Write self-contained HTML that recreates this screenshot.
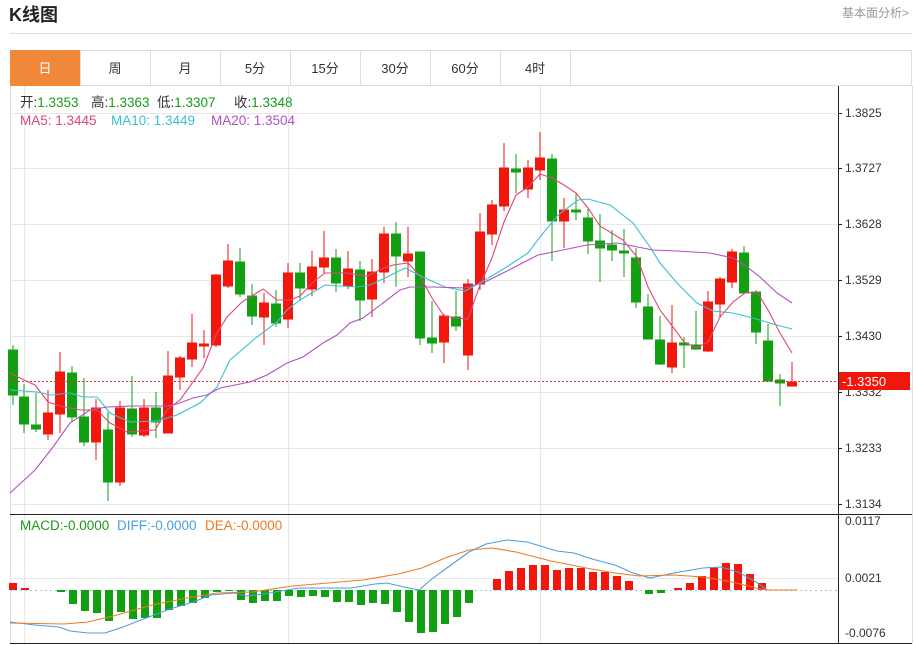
<!DOCTYPE html>
<html><head><meta charset="utf-8"><style>
body{margin:0;background:#fff;width:914px;height:645px;overflow:hidden;font-family:"Liberation Sans","Noto Sans CJK SC",sans-serif;}
svg text{font-family:"Liberation Sans","Noto Sans CJK SC",sans-serif;}
</style></head><body>
<svg width="914" height="645" xmlns="http://www.w3.org/2000/svg" style="position:absolute;left:0;top:0">
<text x="9" y="21" font-size="18" font-weight="bold" fill="#222">K线图</text>
<text x="842" y="17" font-size="12" fill="#999">基本面分析&gt;</text>
<line x1="10" y1="33.5" x2="912" y2="33.5" stroke="#ddd"/>
<rect x="10.5" y="50.5" width="901" height="35" fill="#fff" stroke="#ddd"/>
<rect x="10" y="50" width="70" height="36" fill="#f0883a"/>
<g stroke="#ddd"><line x1="150.5" y1="50" x2="150.5" y2="86"/><line x1="220.5" y1="50" x2="220.5" y2="86"/><line x1="290.5" y1="50" x2="290.5" y2="86"/><line x1="360.5" y1="50" x2="360.5" y2="86"/><line x1="430.5" y1="50" x2="430.5" y2="86"/><line x1="500.5" y1="50" x2="500.5" y2="86"/><line x1="570.5" y1="50" x2="570.5" y2="86"/><line x1="80.5" y1="50" x2="80.5" y2="86"/></g>
<g font-size="13" text-anchor="middle" fill="#333"><text x="45" y="73" fill="#fff">日</text><text x="115" y="73">周</text><text x="185" y="73">月</text><text x="255" y="73">5分</text><text x="325" y="73">15分</text><text x="395" y="73">30分</text><text x="465" y="73">60分</text><text x="535" y="73">4时</text></g>
<line x1="10.5" y1="86" x2="10.5" y2="643" stroke="#ddd"/>
<line x1="912.5" y1="86" x2="912.5" y2="643" stroke="#ddd"/>
<g stroke="#e8e8e8"><line x1="10" y1="113.5" x2="838" y2="113.5"/><line x1="10" y1="168.5" x2="838" y2="168.5"/><line x1="10" y1="224.5" x2="838" y2="224.5"/><line x1="10" y1="280.5" x2="838" y2="280.5"/><line x1="10" y1="336.5" x2="838" y2="336.5"/><line x1="10" y1="392.5" x2="838" y2="392.5"/><line x1="10" y1="448.5" x2="838" y2="448.5"/><line x1="10" y1="504.5" x2="838" y2="504.5"/><line x1="10" y1="578.5" x2="838" y2="578.5"/>
<line x1="24.5" y1="86" x2="24.5" y2="643"/><line x1="288.5" y1="86" x2="288.5" y2="643"/><line x1="540.5" y1="86" x2="540.5" y2="643"/></g>
<line x1="838.5" y1="86" x2="838.5" y2="643" stroke="#222"/>
<line x1="10" y1="514.5" x2="912" y2="514.5" stroke="#222"/>
<line x1="10" y1="643.5" x2="912" y2="643.5" stroke="#222"/>
<g font-size="12" fill="#333"><text x="845" y="117">1.3825</text><text x="845" y="172">1.3727</text><text x="845" y="228">1.3628</text><text x="845" y="284">1.3529</text><text x="845" y="340">1.3430</text><text x="845" y="396">1.3332</text><text x="845" y="452">1.3233</text><text x="845" y="508">1.3134</text><text x="845" y="525">0.0117</text><text x="845" y="582">0.0021</text><text x="845" y="637">-0.0076</text></g>
<g stroke="#222"><line x1="838" y1="113.5" x2="842" y2="113.5"/><line x1="838" y1="168.5" x2="842" y2="168.5"/><line x1="838" y1="224.5" x2="842" y2="224.5"/><line x1="838" y1="280.5" x2="842" y2="280.5"/><line x1="838" y1="336.5" x2="842" y2="336.5"/><line x1="838" y1="392.5" x2="842" y2="392.5"/><line x1="838" y1="448.5" x2="842" y2="448.5"/><line x1="838" y1="504.5" x2="842" y2="504.5"/></g>
<g font-size="13.5" fill="#333">
<text x="20" y="107">开:<tspan fill="#1a9a1a">1.3353</tspan></text>
<text x="91" y="107">高:<tspan fill="#1a9a1a">1.3363</tspan></text>
<text x="157" y="107">低:<tspan fill="#1a9a1a">1.3307</tspan></text>
<text x="234" y="107">收:<tspan fill="#1a9a1a">1.3348</tspan></text>
<text x="20" y="125" fill="#e0457b">MA5: 1.3445</text>
<text x="111" y="125" fill="#3cbfd0">MA10: 1.3449</text>
<text x="211" y="125" fill="#b050c0">MA20: 1.3504</text>
<text x="20" y="530" fill="#1a9a1a">MACD:-0.0000</text>
<text x="117" y="530" fill="#4aa0e0">DIFF:-0.0000</text>
<text x="205" y="530" fill="#f07a20">DEA:-0.0000</text>
</g>
<g stroke-width="1">
<g stroke="#12a012" fill="#12a012">
<line x1="13" y1="345" x2="13" y2="405"/><rect x="8.5" y="350" width="9" height="45"/>
<line x1="24" y1="384" x2="24" y2="433"/><rect x="19.5" y="397" width="9" height="27"/>
<line x1="36" y1="393" x2="36" y2="432"/><rect x="31.5" y="425" width="9" height="4"/>
<line x1="72" y1="366" x2="72" y2="422"/><rect x="67.5" y="373" width="9" height="44"/>
<line x1="84" y1="378" x2="84" y2="446"/><rect x="79.5" y="417" width="9" height="25"/>
<line x1="108" y1="412" x2="108" y2="501"/><rect x="103.5" y="430" width="9" height="52"/>
<line x1="132" y1="376" x2="132" y2="437"/><rect x="127.5" y="409" width="9" height="25"/>
<line x1="156" y1="392" x2="156" y2="438"/><rect x="151.5" y="408" width="9" height="14"/>
<line x1="240" y1="248" x2="240" y2="297"/><rect x="235.5" y="262" width="9" height="32"/>
<line x1="252" y1="284" x2="252" y2="325"/><rect x="247.5" y="296" width="9" height="20"/>
<line x1="276" y1="290" x2="276" y2="327"/><rect x="271.5" y="304" width="9" height="19"/>
<line x1="300" y1="263" x2="300" y2="301"/><rect x="295.5" y="273" width="9" height="15"/>
<line x1="336" y1="249" x2="336" y2="292"/><rect x="331.5" y="258" width="9" height="25"/>
<line x1="360" y1="261" x2="360" y2="321"/><rect x="355.5" y="270" width="9" height="30"/>
<line x1="396" y1="222" x2="396" y2="287"/><rect x="391.5" y="234" width="9" height="22"/>
<line x1="420" y1="252" x2="420" y2="345"/><rect x="415.5" y="252" width="9" height="86"/>
<line x1="432" y1="301" x2="432" y2="353"/><rect x="427.5" y="338" width="9" height="5"/>
<line x1="456" y1="291" x2="456" y2="331"/><rect x="451.5" y="317" width="9" height="9"/>
<line x1="516" y1="154" x2="516" y2="193"/><rect x="511.5" y="169" width="9" height="3"/>
<line x1="552" y1="154" x2="552" y2="261"/><rect x="547.5" y="159" width="9" height="62"/>
<line x1="576" y1="194" x2="576" y2="220"/><rect x="571.5" y="210" width="9" height="2"/>
<line x1="588" y1="209" x2="588" y2="254"/><rect x="583.5" y="218" width="9" height="23"/>
<line x1="600" y1="214" x2="600" y2="282"/><rect x="595.5" y="241" width="9" height="7"/>
<line x1="612" y1="230" x2="612" y2="261"/><rect x="607.5" y="245" width="9" height="5"/>
<line x1="624" y1="229" x2="624" y2="277"/><rect x="619.5" y="251" width="9" height="2"/>
<line x1="636" y1="248" x2="636" y2="308"/><rect x="631.5" y="258" width="9" height="44"/>
<line x1="648" y1="294" x2="648" y2="339"/><rect x="643.5" y="307" width="9" height="32"/>
<line x1="660" y1="316" x2="660" y2="365"/><rect x="655.5" y="340" width="9" height="24"/>
<line x1="684" y1="337" x2="684" y2="368"/><rect x="679.5" y="343" width="9" height="2"/>
<line x1="696" y1="311" x2="696" y2="350"/><rect x="691.5" y="345" width="9" height="4"/>
<line x1="744" y1="246" x2="744" y2="293"/><rect x="739.5" y="253" width="9" height="40"/>
<line x1="756" y1="290" x2="756" y2="344"/><rect x="751.5" y="292" width="9" height="40"/>
<line x1="768" y1="324" x2="768" y2="381"/><rect x="763.5" y="341" width="9" height="40"/>
<line x1="780" y1="374" x2="780" y2="406"/><rect x="775.5" y="380" width="9" height="3"/>
</g>
<g stroke="#f2170c" fill="#f2170c">
<line x1="48" y1="390" x2="48" y2="440"/><rect x="43.5" y="413" width="9" height="21"/>
<line x1="60" y1="352" x2="60" y2="433"/><rect x="55.5" y="372" width="9" height="42"/>
<line x1="96" y1="399" x2="96" y2="460"/><rect x="91.5" y="408" width="9" height="34"/>
<line x1="120" y1="401" x2="120" y2="486"/><rect x="115.5" y="408" width="9" height="74"/>
<line x1="144" y1="399" x2="144" y2="437"/><rect x="139.5" y="408" width="9" height="27"/>
<line x1="168" y1="351" x2="168" y2="433"/><rect x="163.5" y="376" width="9" height="57"/>
<line x1="180" y1="356" x2="180" y2="390"/><rect x="175.5" y="358" width="9" height="19"/>
<line x1="192" y1="314" x2="192" y2="367"/><rect x="187.5" y="343" width="9" height="16"/>
<line x1="204" y1="330" x2="204" y2="358"/><rect x="199.5" y="344" width="9" height="2"/>
<line x1="216" y1="274" x2="216" y2="347"/><rect x="211.5" y="275" width="9" height="70"/>
<line x1="228" y1="244" x2="228" y2="288"/><rect x="223.5" y="261" width="9" height="25"/>
<line x1="264" y1="293" x2="264" y2="345"/><rect x="259.5" y="303" width="9" height="14"/>
<line x1="288" y1="263" x2="288" y2="328"/><rect x="283.5" y="273" width="9" height="46"/>
<line x1="312" y1="251" x2="312" y2="296"/><rect x="307.5" y="267" width="9" height="22"/>
<line x1="324" y1="231" x2="324" y2="273"/><rect x="319.5" y="258" width="9" height="9"/>
<line x1="348" y1="251" x2="348" y2="289"/><rect x="343.5" y="269" width="9" height="17"/>
<line x1="372" y1="259" x2="372" y2="317"/><rect x="367.5" y="272" width="9" height="27"/>
<line x1="384" y1="227" x2="384" y2="283"/><rect x="379.5" y="234" width="9" height="38"/>
<line x1="408" y1="227" x2="408" y2="277"/><rect x="403.5" y="254" width="9" height="7"/>
<line x1="444" y1="314" x2="444" y2="363"/><rect x="439.5" y="316" width="9" height="26"/>
<line x1="468" y1="279" x2="468" y2="370"/><rect x="463.5" y="284" width="9" height="71"/>
<line x1="480" y1="213" x2="480" y2="290"/><rect x="475.5" y="232" width="9" height="52"/>
<line x1="492" y1="200" x2="492" y2="245"/><rect x="487.5" y="205" width="9" height="29"/>
<line x1="504" y1="143" x2="504" y2="211"/><rect x="499.5" y="168" width="9" height="38"/>
<line x1="528" y1="160" x2="528" y2="198"/><rect x="523.5" y="168" width="9" height="21"/>
<line x1="540" y1="132" x2="540" y2="180"/><rect x="535.5" y="158" width="9" height="12"/>
<line x1="564" y1="198" x2="564" y2="248"/><rect x="559.5" y="210" width="9" height="11"/>
<line x1="672" y1="305" x2="672" y2="373"/><rect x="667.5" y="343" width="9" height="24"/>
<line x1="708" y1="291" x2="708" y2="352"/><rect x="703.5" y="302" width="9" height="49"/>
<line x1="720" y1="277" x2="720" y2="318"/><rect x="715.5" y="279" width="9" height="25"/>
<line x1="732" y1="249" x2="732" y2="288"/><rect x="727.5" y="252" width="9" height="30"/>
<line x1="792" y1="362" x2="792" y2="386"/><rect x="787.5" y="382" width="9" height="4"/>
</g></g>
<g fill="none" stroke-width="1.1">
<polyline stroke="#e0457b" points="10,373 24,380 35,385 48,402 60,406 80,410 97,410 110,423 127,432 155,430 167,410 180,400 203,368 216,335 227,317 242,302 263,289 277,300 290,300 300,296 312,283 325,273 347,273 367,276 384,268 393,265 408,263 420,276 432,298 444,316 456,318 468,319 480,285 492,258 504,222 516,195 528,187 540,174 552,178 564,185 576,193 588,208 600,226 623,240 637,257 648,287 660,310 673,327 684,342 696,348 708,342 720,317 733,302 745,293 757,292 768,310 780,333 792,353"/>
<polyline stroke="#3cbfd0" points="10,390 37,392 50,395 70,393 83,397 97,397 110,413 130,422 157,421 177,415 200,403 217,387 230,360 257,337 277,322 287,310 300,300 325,285 357,287 370,285 387,277 405,268 425,278 445,287 465,291 485,280 505,268 528,253 540,237 558,215 578,200 588,199 610,205 633,223 650,247 660,263 677,283 697,303 713,311 733,313 753,318 773,324 792,329"/>
<polyline stroke="#b050c0" points="10,493 35,470 53,447 70,423 90,410 107,407 133,406 167,406 177,404 193,398 207,395 220,388 250,382 267,375 287,363 303,357 323,343 337,335 350,323 363,318 383,303 400,290 410,287 433,287 465,288 485,282 505,272 538,255 558,251 587,245 617,243 653,250 677,251 710,253 733,258 747,267 760,277 777,293 792,303"/>
</g>
<line x1="10" y1="381.5" x2="838" y2="381.5" stroke="#e03030" stroke-dasharray="2,2"/>
<rect x="839" y="372" width="71" height="18" fill="#f2170c"/>
<text x="842" y="386" font-size="13" fill="#fff">-1.3350</text>
<line x1="10" y1="590.5" x2="838" y2="590.5" stroke="#9cc8e8" stroke-dasharray="2,3"/>
<g fill="#f2170c"><rect x="9" y="583" width="8" height="7"/><rect x="21" y="588" width="8" height="2"/>
<rect x="493" y="579" width="8" height="11"/><rect x="505" y="571" width="8" height="19"/><rect x="517" y="568" width="8" height="22"/><rect x="529" y="565" width="8" height="25"/><rect x="541" y="565" width="8" height="25"/><rect x="553" y="570" width="8" height="20"/><rect x="565" y="568" width="8" height="22"/><rect x="577" y="568" width="8" height="22"/><rect x="589" y="572" width="8" height="18"/><rect x="601" y="572" width="8" height="18"/><rect x="613" y="576" width="8" height="14"/><rect x="625" y="581" width="8" height="9"/>
<rect x="674" y="588" width="8" height="2"/><rect x="686" y="583" width="8" height="7"/><rect x="698" y="576" width="8" height="14"/><rect x="710" y="567" width="8" height="23"/><rect x="722" y="563" width="8" height="27"/><rect x="734" y="564" width="8" height="26"/><rect x="746" y="574" width="8" height="16"/><rect x="758" y="583" width="8" height="7"/></g>
<g fill="#12a012"><rect x="57" y="590" width="8" height="2"/><rect x="69" y="590" width="8" height="14"/><rect x="81" y="590" width="8" height="21"/><rect x="93" y="590" width="8" height="23"/><rect x="105" y="590" width="8" height="31"/><rect x="117" y="590" width="8" height="22"/><rect x="129" y="590" width="8" height="29"/><rect x="141" y="590" width="8" height="28"/><rect x="153" y="590" width="8" height="28"/><rect x="165" y="590" width="8" height="20"/><rect x="177" y="590" width="8" height="16"/><rect x="189" y="590" width="8" height="13"/><rect x="201" y="590" width="8" height="8"/><rect x="213" y="590" width="8" height="2"/><rect x="225" y="590" width="8" height="1"/><rect x="237" y="590" width="8" height="10"/><rect x="249" y="590" width="8" height="13"/><rect x="261" y="590" width="8" height="11"/><rect x="273" y="590" width="8" height="11"/><rect x="285" y="590" width="8" height="6"/><rect x="297" y="590" width="8" height="7"/><rect x="309" y="590" width="8" height="6"/><rect x="321" y="590" width="8" height="7"/><rect x="333" y="590" width="8" height="12"/><rect x="345" y="590" width="8" height="12"/><rect x="357" y="590" width="8" height="15"/><rect x="369" y="590" width="8" height="13"/><rect x="381" y="590" width="8" height="14"/><rect x="393" y="590" width="8" height="22"/><rect x="405" y="590" width="8" height="32"/><rect x="417" y="590" width="8" height="43"/><rect x="429" y="590" width="8" height="42"/><rect x="441" y="590" width="8" height="34"/><rect x="453" y="590" width="8" height="27"/><rect x="465" y="590" width="8" height="13"/>
<rect x="645" y="590" width="8" height="4"/><rect x="657" y="590" width="8" height="3"/></g>
<g fill="none" stroke-width="1.1">
<polyline stroke="#4aa0e0" points="10,622 35,625 59,627 70,631 88,633 105,633 111,631 123,627 146,618 170,609 193,602 211,595 234,593 246,596 264,594 281,591 299,588 328,588 351,588 375,584 387,583 404,587 419,590 433,578 451,565 469,552 486,544 507,540 527,542 557,551 574,553 592,559 615,565 633,573 650,578 674,573 703,568 721,567 738,572 756,582 767,590 797,590"/>
<polyline stroke="#f07a20" points="10,623 64,624 88,622 117,615 152,605 187,598 217,593 252,592 293,586 328,583 363,580 398,574 422,568 445,558 469,550 492,548 516,552 551,561 586,568 615,573 639,576 674,575 703,577 732,582 756,588 767,590 797,590"/>
</g>
</svg>
</body></html>
